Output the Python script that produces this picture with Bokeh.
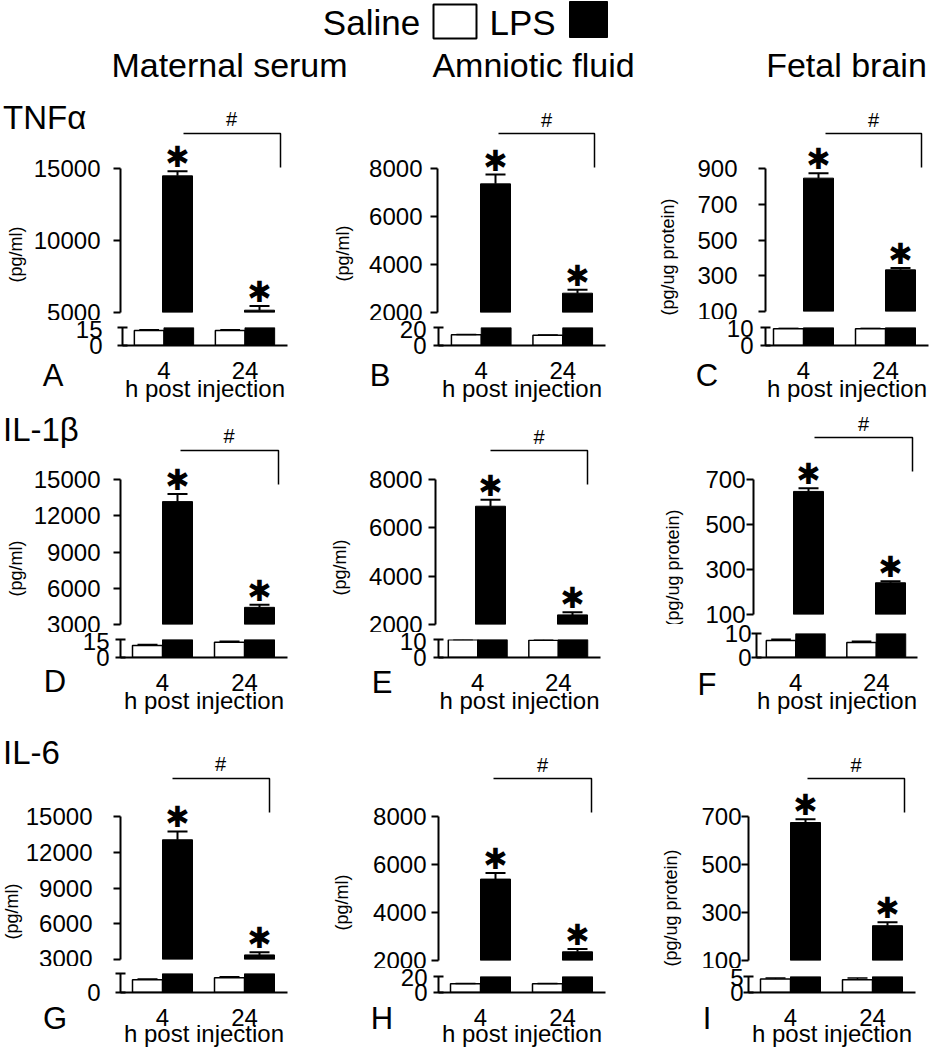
import numpy as np
from bokeh.plotting import figure
from bokeh.models import Range1d, LinearAxis, FixedTicker, Title, Div
from bokeh.layouts import column, row
from bokeh.embed import file_html
from bokeh.resources import INLINE
from bokeh.core.properties import value

FONT = "Liberation Sans"
STAR_FONT = "DejaVu Sans"

# ---------------- data ----------------
times = ["4", "24"]
cytokines = ["TNF\u03b1", "IL-1\u03b2", "IL-6"]
tissues = ["Maternal serum", "Amniotic fluid", "Fetal brain"]
units = ["(pg/ml)", "(pg/ml)", "(pg/ug protein)"]
letters = ["A", "B", "C", "D", "E", "F", "G", "H", "I"]

# TNF-alpha
saline_A = [12.5, 12.5]; saline_err_A = [0.6, 0.6]; lps_A = [14490, 5160]; lps_err_A = [320, 300]
saline_B = [11.9, 11.4]; saline_err_B = [0.4, 0.4]; lps_B = [7360, 2805]; lps_err_B = [390, 140]
saline_C = [9.3, 9.3];   saline_err_C = [0.4, 0.4]; lps_C = [846, 333];    lps_err_C = [28, 10]
# IL-1beta
saline_D = [10.0, 12.8]; saline_err_D = [0.8, 0.8]; lps_D = [13170, 4420]; lps_err_D = [640, 220]
saline_E = [9.8, 9.6];   saline_err_E = [0.2, 0.3]; lps_E = [6894, 2398];  lps_err_E = [266, 110]
saline_F = [7.1, 6.3];   saline_err_F = [0.5, 0.5]; lps_F = [647, 241];    lps_err_F = [14, 7]
# IL-6
saline_G = [10.1, 11.7]; saline_err_G = [0.5, 0.8]; lps_G = [13047, 3385]; lps_err_G = [700, 220]
saline_H = [10.9, 10.9]; saline_err_H = [0.4, 0.4]; lps_H = [5392, 2362];  lps_err_H = [250, 113]
saline_I = [4.2, 4.0];   saline_err_I = [0.3, 0.5]; lps_I = [675, 245];    lps_err_I = [14, 14]

# broken-axis tick values (upper segment / lower segment)
upper_ticks_A = [5000, 10000, 15000];             lower_ticks_A = [0, 15]
upper_ticks_B = [2000, 4000, 6000, 8000];         lower_ticks_B = [0, 20]
upper_ticks_C = [100, 300, 500, 700, 900];        lower_ticks_C = [0, 10]
upper_ticks_D = [3000, 6000, 9000, 12000, 15000]; lower_ticks_D = [0, 15]
upper_ticks_E = [2000, 4000, 6000, 8000];         lower_ticks_E = [0, 10]
upper_ticks_F = [100, 300, 500, 700];             lower_ticks_F = [0, 10]
upper_ticks_G = [3000, 6000, 9000, 12000, 15000]; lower_ticks_G = [0, 15]
upper_ticks_H = [2000, 4000, 6000, 8000];         lower_ticks_H = [0, 20]
upper_ticks_I = [100, 300, 500, 700];             lower_ticks_I = [0, 5]
lower_labels_G = ["0", ""]

DATA = {
    "A": (saline_A, saline_err_A, lps_A, lps_err_A, upper_ticks_A, lower_ticks_A, None),
    "B": (saline_B, saline_err_B, lps_B, lps_err_B, upper_ticks_B, lower_ticks_B, None),
    "C": (saline_C, saline_err_C, lps_C, lps_err_C, upper_ticks_C, lower_ticks_C, None),
    "D": (saline_D, saline_err_D, lps_D, lps_err_D, upper_ticks_D, lower_ticks_D, None),
    "E": (saline_E, saline_err_E, lps_E, lps_err_E, upper_ticks_E, lower_ticks_E, None),
    "F": (saline_F, saline_err_F, lps_F, lps_err_F, upper_ticks_F, lower_ticks_F, None),
    "G": (saline_G, saline_err_G, lps_G, lps_err_G, upper_ticks_G, lower_ticks_G, lower_labels_G),
    "H": (saline_H, saline_err_H, lps_H, lps_err_H, upper_ticks_H, lower_ticks_H, None),
    "I": (saline_I, saline_err_I, lps_I, lps_err_I, upper_ticks_I, lower_ticks_I, None),
}

# ---------------- layout (page pixel geometry) ----------------
COL_EDGES = [0, 312, 640, 931]
ROW_EDGES = [95, 405, 725, 1050]
ROW_LABEL_Y = [118, 430, 753]
LETTER_RIGHT = [72, 396, 721]
XLABEL_STANDOFF = [-7, -7, -9]
S = 82.0            # px between the two time groups
BW = 30.0 / S       # bar width (x units)
CAPW = 20.0 / S     # error cap width
DIGIT_W = 13.35     # width of one 24px digit
UNIT_LEN = {"(pg/ml)": 56, "(pg/ug protein)": 117}

LAY = {
    "A": dict(axis=120, g1=162, xend=287, hi=168, lo=312, lt=327, ax=345, br=133, bx0=183, bx1=280, yl=(11, 254), let=(53, 376), gap=20, lgap=20),
    "B": dict(axis=437, g1=480, xend=605, hi=168, lo=312, lt=327, ax=345, br=133, bx0=498, bx1=594, yl=(345, 253), let=(380, 376), gap=15, lgap=12),
    "C": dict(axis=765, g1=803, xend=928, hi=168, lo=311, lt=327, ax=345, br=133, bx0=825, bx1=921, yl=(667, 256), let=(707, 376), gap=28, lgap=12),
    "D": dict(axis=120, g1=162, xend=287, hi=479, lo=624, lt=639, ax=657, br=450, bx0=180, bx1=278, yl=(13, 568), let=(55, 682), gap=20, lgap=11),
    "E": dict(axis=435, g1=475, xend=600, hi=479, lo=624, lt=639, ax=657, br=450, bx0=490, bx1=587, yl=(333, 567), let=(382, 683), gap=13, lgap=12),
    "F": dict(axis=753, g1=793, xend=917, hi=479, lo=614, lt=633, ax=657, br=437, bx0=814, bx1=912, yl=(675, 567), let=(707, 685), gap=8, lgap=5),
    "G": dict(axis=120, g1=162, xend=287, hi=816, lo=959, lt=973, ax=992, br=778, bx0=172, bx1=269, yl=(13, 911), let=(55, 1019), gap=28, lgap=20),
    "H": dict(axis=438, g1=480, xend=605, hi=816, lo=960, lt=976, ax=992, br=778, bx0=493, bx1=591, yl=(338, 902), let=(382, 1019), gap=12, lgap=11),
    "I": dict(axis=748, g1=790, xend=915, hi=816, lo=960, lt=976, ax=992, br=778, bx0=807, bx1=904, yl=(673, 908), let=(707, 1019), gap=6, lgap=5),
}


def base_fig(w, h, xr, yr, ml=0, mr=0, mt=0, mb=0):
    p = figure(width=int(round(w)), height=int(round(h)), x_range=xr, y_range=yr,
               x_axis_type=None, y_axis_type=None, output_backend="svg",
               toolbar_location=None, min_border_left=int(round(ml)), min_border_right=int(round(mr)),
               min_border_top=int(round(mt)), min_border_bottom=int(round(mb)))
    p.outline_line_color = None
    p.background_fill_color = "white"
    p.border_fill_color = "white"
    return p


def style_axis(ax, gap, tick_in, tick_out):
    ax.axis_line_width = 2
    ax.axis_line_color = "black"
    ax.major_tick_line_width = 2
    ax.major_tick_line_color = "black"
    ax.major_tick_in = tick_in
    ax.major_tick_out = tick_out
    ax.minor_tick_line_color = None
    ax.major_label_text_font = FONT
    ax.major_label_text_font_size = "24px"
    ax.major_label_text_color = "black"
    ax.major_label_standoff = max(gap - tick_out, 0)


def txt(p, x, y, s, size, align="center", font=FONT):
    p.text(x=x, y=y, text=s, text_font=value(font), text_font_size=size,
           text_align=align, text_baseline="middle", text_color="black")


def text_div(w, h, items):
    """HTML strip holding free-standing texts; items = (x, y, text, size_px, align)."""
    parts = []
    for x, y, s, size, align in items:
        lh = 2 * size
        shift = "0" if align == "left" else "-50%"
        parts.append(
            f'<div style="position:absolute;left:{x}px;top:{y - lh / 2}px;height:{lh}px;'
            f"line-height:{lh}px;font-family:'{FONT}';font-size:{size}px;color:black;"
            f'white-space:nowrap;margin:0;padding:0;transform:translateX({shift})">{s}</div>')
    html = (f'<div style="position:relative;width:{w}px;height:{h}px;margin:0;padding:0">'
            + "".join(parts) + "</div>")
    return Div(text=html, width=int(w), height=int(h), margin=0)


def make_panel(key, ri, ci):
    sal, sal_e, lps, lps_e, up_t, low_t, low_lab = DATA[key]
    L = LAY[key]
    sal = np.array(sal, float); sal_e = np.array(sal_e, float)
    lps = np.array(lps, float); lps_e = np.array(lps_e, float)
    idx = np.arange(len(times), dtype=float)
    xs, xl = idx - BW / 2, idx + BW / 2

    cl, cr = COL_EDGES[ci], COL_EDGES[ci + 1]
    rt, rb = ROW_EDGES[ri], ROW_EDGES[ri + 1]
    split = int(round((L["lo"] + L["lt"]) / 2))
    fw = min(L["xend"], cr) - L["axis"]
    x0 = (L["axis"] - L["g1"]) / S
    xr = Range1d(x0, x0 + fw / S)

    def xx(px):
        return (px - L["g1"]) / S

    lo, hi = up_t[0], up_t[-1]
    ku = (hi - lo) / (L["lo"] - L["hi"])

    def uy(px):
        return lo + (L["lo"] - px) * ku

    lt = low_t[-1]
    bx0, bx1 = xx(L["bx0"]), xx(L["bx1"])
    children = []

    # ---------- strip with row label and '#', first column only ----------
    if ci == 0:
        cap_b = L["br"] - 2
        children.append(text_div(cr - cl, cap_b - rt, [
            (3, ROW_LABEL_Y[ri] - rt, cytokines[ri], 33, "left"),
            ((L["bx0"] + L["bx1"]) / 2 - cl, L["br"] - 14 - rt, "#", 20, "center"),
        ]))
        up_top = cap_b
    else:
        up_top = rt

    # ---------- upper segment ----------
    mleft = L["axis"] - cl
    top = base_fig(cr - cl, split - up_top, xr, Range1d(lo, uy(up_top)),
                   mleft, cr - L["axis"] - fw, 0, split - L["lo"])
    yax = LinearAxis(ticker=FixedTicker(ticks=up_t), bounds=(lo, hi))
    style_axis(yax, L["gap"], 0, 7)
    top.add_layout(yax, "left")

    axisw = 7 + max(L["gap"] - 7, 0) + len(str(hi)) * DIGIT_W
    apl = L["axis"] - axisw
    st = 2 * (apl - L["yl"][0]) - 22
    st = int(max(0, min(st, mleft - axisw - 25)))
    off = int(round(L["lo"] - L["yl"][1] - UNIT_LEN[units[ci]] / 2))
    top.add_layout(Title(text=units[ci], align="left", vertical_align="middle", offset=off,
                         standoff=st, text_font=FONT, text_font_size="18px",
                         text_font_style="normal", text_color="black"), "left")

    m = lps > lo
    top.vbar(x=xl[m], width=BW, bottom=lo, top=lps[m], fill_color="black", line_color="black")
    ytop = lps + lps_e
    top.segment(x0=xl[m], y0=lps[m], x1=xl[m], y1=ytop[m], line_color="black", line_width=2)
    top.segment(x0=xl[m] - CAPW / 2, y0=ytop[m], x1=xl[m] + CAPW / 2, y1=ytop[m],
                line_color="black", line_width=2)
    # significance asterisks (LPS vs saline)
    txt(top, xl[m], ytop[m] + 14 * ku, ["\u2731"] * int(m.sum()), "29px", font=STAR_FONT)

    top.line(x=[bx0, bx1, bx1], y=[uy(L["br"]), uy(L["br"]), uy(L["br"] + 34)],
             line_color="black", line_width=1.5)
    if ci != 0:
        txt(top, [(bx0 + bx1) / 2], [uy(L["br"] - 14)], ["#"], "20px")
    children.append(top)

    # ---------- lower segment, with the panel letter on its left ----------
    lr = LETTER_RIGHT[ci]
    ldiv = text_div(lr - cl, rb - split,
                    [(L["let"][0] - cl, L["let"][1] - split, letters[ri * 3 + ci], 31, "center")])

    bot = base_fig(cr - lr, rb - split, xr, Range1d(0, lt),
                   L["axis"] - lr, cr - L["axis"] - fw, L["lt"] - split, rb - L["ax"])
    lax = LinearAxis(ticker=FixedTicker(ticks=low_t), bounds=(0, lt))
    style_axis(lax, L["lgap"], 5, 5)
    if low_lab is not None:
        lax.major_label_overrides = {t: s for t, s in zip(low_t, low_lab)}
    bot.add_layout(lax, "left")
    xax = LinearAxis(ticker=FixedTicker(ticks=list(idx)),
                     major_label_overrides={float(i): t for i, t in zip(idx, times)},
                     axis_label="h post injection")
    style_axis(xax, 16, 0, 0)
    xax.major_tick_line_color = None
    xax.axis_label_text_font = FONT
    xax.axis_label_text_font_size = "24px"
    xax.axis_label_text_font_style = "normal"
    xax.axis_label_text_color = "black"
    xax.axis_label_standoff = XLABEL_STANDOFF[ri]
    bot.add_layout(xax, "below")

    bot.vbar(x=xs, width=BW, bottom=0, top=np.minimum(sal, lt), fill_color="white",
             line_color="black", line_width=1.5)
    bot.vbar(x=xl, width=BW, bottom=0, top=np.minimum(lps, lt), fill_color="black",
             line_color="black")
    stp = sal + sal_e
    bot.segment(x0=xs, y0=sal, x1=xs, y1=stp, line_color="black", line_width=1.5)
    bot.segment(x0=xs - CAPW / 2, y0=stp, x1=xs + CAPW / 2, y1=stp, line_color="black",
                line_width=1.5)
    children.append(row(ldiv, bot, spacing=0))
    return column(*children, spacing=0)


# ---------------- header (legend + column titles) ----------------
hdr = base_fig(COL_EDGES[-1] - COL_EDGES[0], ROW_EDGES[0],
               Range1d(COL_EDGES[0], COL_EDGES[-1]), Range1d(ROW_EDGES[0], 0))
txt(hdr, [371, 522], [22, 22], ["Saline", "LPS"], "35px")
hdr.quad(left=[433], right=[476], top=[4], bottom=[38], fill_color="white",
         line_color="black", line_width=2)
hdr.quad(left=[569], right=[607], top=[1], bottom=[37], fill_color="black", line_color="black")
txt(hdr, [229, 533, 846], [64, 64, 64], tissues, "34px")

rows = []
for ri in range(3):
    rows.append(row(*[make_panel(letters[ri * 3 + ci], ri, ci) for ci in range(3)], spacing=0))

layout = column(hdr, *rows, spacing=0)
open("out.html", "w").write(file_html(layout, INLINE, "Cytokines after LPS"))
